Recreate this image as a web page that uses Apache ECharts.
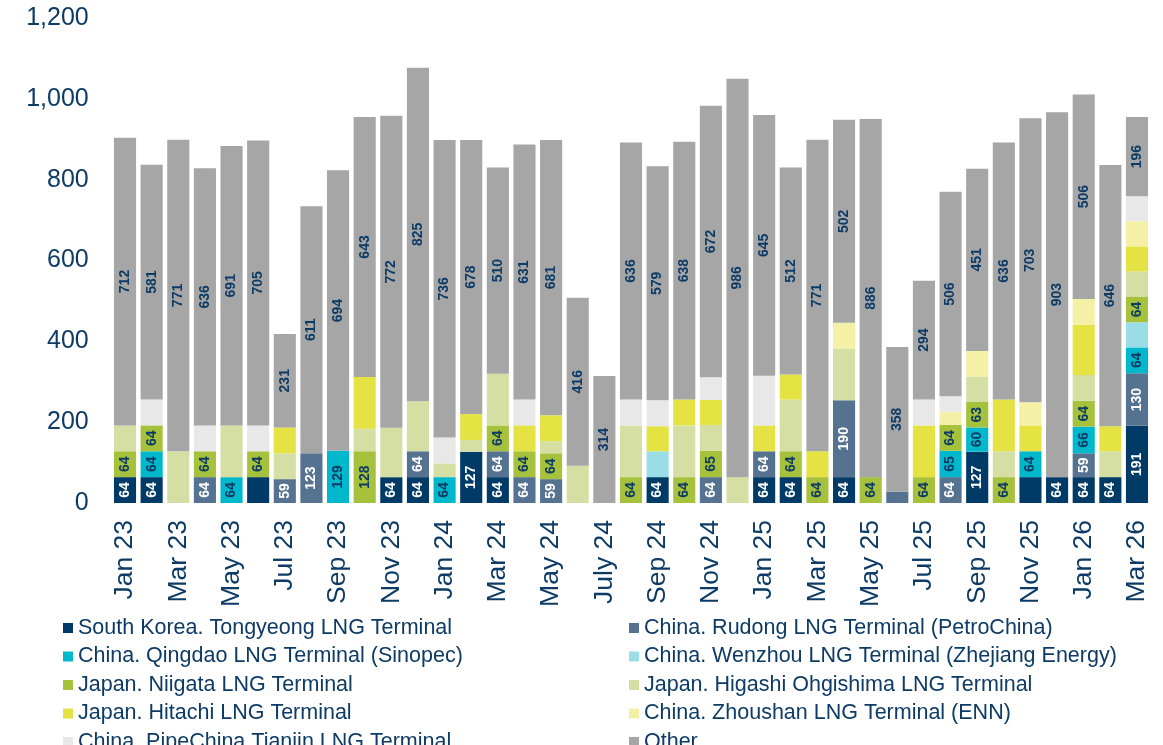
<!DOCTYPE html>
<html><head><meta charset="utf-8">
<script src="https://cdn.jsdelivr.net/npm/echarts@6/dist/echarts.min.js"></script>
<style>html,body{margin:0;padding:0;background:#fff}#c{width:1163px;height:745px}</style>
</head><body><div id="c"></div><script>
const categories = ['Jan 23','Feb 23','Mar 23','Apr 23','May 23','Jun 23','Jul 23','Aug 23','Sep 23','Oct 23','Nov 23','Dec 23',
  'Jan 24','Feb 24','Mar 24','Apr 24','May 24','Jun 24','July 24','Aug 24','Sep 24','Oct 24','Nov 24','Dec 24',
  'Jan 25','Feb 25','Mar 25','Apr 25','May 25','Jun 25','Jul 25','Aug 25','Sep 25','Oct 25','Nov 25','Dec 25',
  'Jan 26','Feb 26','Mar 26'];
// 0 = no volume for that month
const tongyeong = [64,64,0,0,0,64,0,0,0,0,64,64, 0,127,64,0,0,0,0,0,64,0,0,0, 64,64,0,64,0,0,0,0,127,0,64,64, 64,64,191];
const rudong    = [0,0,0,64,0,0,59,123,0,0,0,64, 0,0,64,64,59,0,0,0,0,0,64,0, 64,0,0,190,0,28,0,64,0,0,0,0, 59,0,130];
const qingdao   = [0,64,0,0,64,0,0,0,129,0,0,0, 64,0,0,0,0,0,0,0,0,0,0,0, 0,0,0,0,0,0,0,65,60,0,64,0, 66,0,64];
const wenzhou   = [0,0,0,0,0,0,0,0,0,0,0,0, 0,0,0,0,0,0,0,0,64,0,0,0, 0,0,0,0,0,0,0,0,0,0,0,0, 0,0,62];
const niigata   = [64,64,0,64,0,64,0,0,0,128,0,0, 0,0,64,64,64,0,0,64,0,64,65,0, 0,64,64,0,64,0,64,64,63,64,0,0, 64,0,64];
const higashi   = [64,0,128,0,128,0,64,0,0,56,122,124, 34,29,128,0,30,92,0,128,0,128,64,64, 0,128,0,128,0,0,0,0,62,64,0,0, 64,64,62];
const hitachi   = [0,0,0,0,0,0,64,0,0,128,0,0, 0,64,0,64,64,0,0,0,62,64,62,0, 64,62,64,0,0,0,128,0,0,128,64,0, 124,62,62];
const zhoushan  = [0,0,0,0,0,0,0,0,0,0,0,0, 0,0,0,0,0,0,0,0,0,0,0,0, 0,0,0,64,0,0,0,33,64,0,57,0, 64,0,62];
const tianjin   = [0,64,0,64,0,64,0,0,0,0,0,0, 64,0,0,64,0,0,0,64,64,0,56,0, 123,0,0,0,0,0,64,38,0,0,0,0, 0,0,62];
const other     = [712,581,771,636,691,705,231,611,694,643,772,825, 736,678,510,631,681,416,314,636,579,638,672,986,
  645,512,771,502,886,358,294,506,451,636,703,903, 506,646,196];
const yTicks = [0,200,400,600,800,1000,1200];
// points whose value is not printed in the reference
const unlabeled = {tongyeong:[5,34], rudong:[29]};

const names = {
  tongyeong:'South Korea. Tongyeong LNG Terminal', rudong:'China. Rudong LNG Terminal (PetroChina)',
  qingdao:'China. Qingdao LNG Terminal (Sinopec)', wenzhou:'China. Wenzhou LNG Terminal (Zhejiang Energy)',
  niigata:'Japan. Niigata LNG Terminal', higashi:'Japan. Higashi Ohgishima LNG Terminal',
  hitachi:'Japan. Hitachi LNG Terminal', zhoushan:'China. Zhoushan LNG Terminal (ENN)',
  tianjin:'China. PipeChina Tianjin LNG Terminal', other:'Other'
};
const defs = [
  ['tongyeong', tongyeong, '#003A66', '#ffffff'],
  ['rudong', rudong, '#557391', '#ffffff'],
  ['qingdao', qingdao, '#00B8CC', '#0D3B66'],
  ['wenzhou', wenzhou, '#9ADDE6', null],
  ['niigata', niigata, '#A6C13B', '#0D3B66'],
  ['higashi', higashi, '#D5DFA3', null],
  ['hitachi', hitachi, '#E4E343', null],
  ['zhoushan', zhoushan, '#F4F1A7', null],
  ['tianjin', tianjin, '#E8E8E8', null],
  ['other', other, '#A6A6A6', '#0D3B66']
];
const FONT = "'Liberation Sans', Arial, sans-serif";
const TXT = '#0D3B66';
const series = defs.map(([key, arr, color, lab]) => {
  const hide = unlabeled[key] || [];
  return {
    name: names[key], type: 'bar', stack: 'all', barCategoryGap: '17%',
    itemStyle: {color: color},
    label: {show: !!lab, position: 'inside', rotate: 90, color: lab || TXT,
      fontFamily: FONT, fontWeight: 'bold', fontSize: 14, align: 'center', verticalAlign: 'middle'},
    emphasis: {disabled: true},
    data: arr.map((v, i) => v === 0 ? '-' : (hide.includes(i) ? {value: v, label: {show: false}} : v))
  };
});
const chart = echarts.init(document.getElementById('c'), null, {renderer: 'canvas'});
const legendBase = {orient: 'vertical', icon: 'rect', itemWidth: 10, itemHeight: 10, itemGap: 6.5,
  width: 540, height: 200,
  textStyle: {fontFamily: FONT, fontSize: 21.5, lineHeight: 21.5, color: TXT}, selectedMode: false};
chart.setOption({
  animation: false,
  backgroundColor: '#fff',
  grid: {left: 111.7, right: 12.7, top: 18, bottom: 242},
  legend: [
    Object.assign({}, legendBase, {left: 58, top: 612, data: [0,2,4,6,8].map(i => names[defs[i][0]])}),
    Object.assign({}, legendBase, {left: 624, top: 612, data: [1,3,5,7,9].map(i => names[defs[i][0]])})
  ],
  xAxis: {type: 'category', data: categories, axisLine: {show: false}, axisTick: {show: false},
    axisLabel: {interval: 1, rotate: 90, fontFamily: FONT, fontSize: 26.5, color: TXT, margin: 17}},
  yAxis: {type: 'value', min: yTicks[0], max: yTicks[yTicks.length-1], interval: 200,
    splitLine: {show: false}, axisLine: {show: false}, axisTick: {show: false},
    axisLabel: {fontFamily: FONT, fontSize: 25, color: TXT, margin: 23, padding: [5, 0, 0, 0],
      formatter: v => v.toLocaleString('en-US')}},
  series: series
});
</script></body></html>
